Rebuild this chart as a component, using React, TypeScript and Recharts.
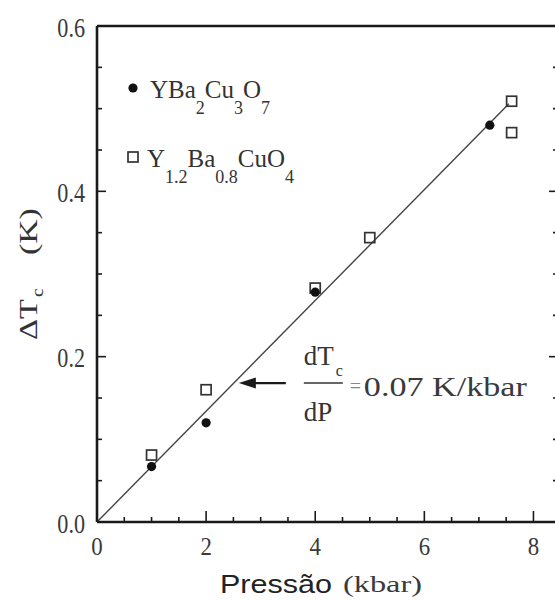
import React from "react";
import { ComposedChart, XAxis, YAxis, Scatter, Line, ReferenceDot } from "recharts";

// YBa2Cu3O7 (filled circles)
const circlePressure = [1, 2, 4, 7.2];
const circleDeltaTc = [0.067, 0.12, 0.278, 0.48];

// Y1.2Ba0.8CuO4 (open squares)
const squarePressure = [1, 2, 4, 5, 7.6, 7.6];
const squareDeltaTc = [0.081, 0.16, 0.283, 0.344, 0.509, 0.471];

// linear fit through the origin
const fitSlope = 0.067; // K/kbar
const fitPressure = [0, 7.55];

// where the slope arrow points at the fit line
const arrowTip = { x: 2.6, y: 0.168 };

const xMajorTicks = [0, 2, 4, 6, 8];
const yMajorTicks = [0, 0.2, 0.4, 0.6];
const xMinorStep = 0.5;
const yMinorStep = 0.05;

const INK = "#1a1a1a";
const SERIF = '"Liberation Serif", "Times New Roman", serif';
const SANS = '"Liberation Sans", Arial, sans-serif';

const W = 600;
const H = 601;
// axes below take 1px each, so the frame sits at x 97..558, y 26..522
const M = { top: 25, right: 41, bottom: 78, left: 96 };

const xDomain: [number, number] = [0, 8.45];
const yDomain: [number, number] = [0, 0.6];

const xTicks = Array.from({ length: 17 }, (_, i) => i * xMinorStep);
const yTicks = Array.from({ length: 13 }, (_, i) => Math.round(i * yMinorStep * 100) / 100);

const onMajor = (v: number, list: number[]) => list.some((m) => Math.abs(m - v) < 1e-6);

const circles = circlePressure.map((x, i) => ({ x, y: circleDeltaTc[i] }));
const squares = squarePressure.map((x, i) => ({ x, y: squareDeltaTc[i] }));
const fitLine = fitPressure.map((x) => ({ x, y: fitSlope * x }));

const BottomTick = ({ x, y, payload }: any) => {
  const major = onMajor(payload.value, xMajorTicks);
  return (
    <g>
      <line x1={x} x2={x} y1={y} y2={y - (major ? 11 : 5)} stroke={INK} strokeWidth={1.6} />
      {major && (
        <text
          transform={`translate(${x},${y + 33}) scale(0.88,1)`}
          textAnchor="middle"
          fontFamily={SERIF}
          fontSize={26}
          fill="#3a3a3a"
        >
          {payload.value}
        </text>
      )}
    </g>
  );
};

const TopTick = ({ x, y, payload }: any) => {
  const major = onMajor(payload.value, xMajorTicks);
  return <line x1={x} x2={x} y1={y} y2={y + (major ? 12 : 5)} stroke={INK} strokeWidth={1.6} />;
};

const LeftTick = ({ x, y, payload }: any) => {
  const major = onMajor(payload.value, yMajorTicks);
  return (
    <g>
      <line x1={x} x2={x + (major ? 9 : 5)} y1={y} y2={y} stroke={INK} strokeWidth={1.6} />
      {major && (
        <text
          transform={`translate(${x - 12},${y + 10.5}) scale(0.82,1)`}
          textAnchor="end"
          fontFamily={SERIF}
          fontSize={27}
          fill="#3a3a3a"
        >
          {payload.value.toFixed(1)}
        </text>
      )}
    </g>
  );
};

const RightTick = ({ x, y, payload }: any) => {
  const major = onMajor(payload.value, yMajorTicks);
  return <line x1={x} x2={x - (major ? 9 : 5)} y1={y} y2={y} stroke={INK} strokeWidth={1.6} />;
};

const Dot = ({ cx, cy }: any) => <circle cx={cx} cy={cy} r={4.6} fill="#111" />;

const OpenSquare = ({ cx, cy }: any) => (
  <rect x={cx - 5} y={cy - 5} width={10} height={10} fill="none" stroke="#333" strokeWidth={1.7} />
);

// arrow + dTc/dP = slope, drawn relative to the arrow tip
const SlopeNote = ({ cx, cy }: any) => (
  <g fill={INK}>
    <line x1={cx + 12} x2={cx + 47} y1={cy} y2={cy} stroke={INK} strokeWidth={2.4} />
    <polygon points={`${cx},${cy} ${cx + 17},${cy - 5.5} ${cx + 17},${cy + 5.5}`} />
    <text x={cx + 65} y={cy - 18} fontFamily={SERIF} fontSize={27} fill="#333">
      dT
    </text>
    <text x={cx + 97} y={cy - 7} fontFamily={SERIF} fontSize={16} fill="#333">
      c
    </text>
    <line x1={cx + 65} x2={cx + 104} y1={cy} y2={cy} stroke="#333" strokeWidth={1.5} />
    <text x={cx + 65} y={cy + 38} fontFamily={SERIF} fontSize={27} fill="#333">
      dP
    </text>
    <text x={cx + 111} y={cy + 10} fontFamily={SERIF} fontSize={20} fill="#888">
      =
    </text>
    <text
      x={cx + 125}
      y={cy + 13}
      fontFamily={SERIF}
      fontSize={27}
      fill="#3a3a3a"
      textLength={163}
      lengthAdjust="spacingAndGlyphs"
    >
      {`${fitSlope.toFixed(2)} K/kbar`}
    </text>
  </g>
);

const Labels = () => (
  <svg
    width={555}
    height={601}
    style={{ position: "absolute", left: 0, top: 0, pointerEvents: "none" }}
  >
    {/* legend */}
    <circle cx={133} cy={88} r={4.6} fill="#111" />
    <text x={150} y={98} fontFamily={SERIF} fontSize={25} fill="#333">
      YBa
      <tspan fontSize={18} dy={16}>2</tspan>
      <tspan dy={-16}>Cu</tspan>
      <tspan fontSize={18} dy={16}>3</tspan>
      <tspan dy={-16}>O</tspan>
      <tspan fontSize={18} dy={16}>7</tspan>
    </text>
    <rect x={128} y={152} width={10} height={10} fill="none" stroke="#333" strokeWidth={1.7} />
    <text x={147} y={167} fontFamily={SERIF} fontSize={25} fill="#333">
      Y
      <tspan fontSize={18} dy={16}>1.2</tspan>
      <tspan dy={-16}>Ba</tspan>
      <tspan fontSize={18} dy={16}>0.8</tspan>
      <tspan dy={-16}>CuO</tspan>
      <tspan fontSize={18} dy={16}>4</tspan>
    </text>

    {/* y axis title, read bottom to top */}
    <g transform="translate(37,274) rotate(-90)" fontFamily={SERIF} fill="#333">
      <text transform="translate(-66,0) scale(1.3,1)" fontSize={25}>
        ΔT
      </text>
      <text transform="translate(-23,6) scale(1.2,1)" fontSize={16}>
        c
      </text>
      <text transform="translate(19,0) scale(1.35,1)" fontSize={25}>
        (K)
      </text>
    </g>

    {/* x axis title */}
    <text x={220} y={593} fontFamily={SANS} fontSize={25} fill="#222" textLength={112} lengthAdjust="spacingAndGlyphs">
      Pressão
    </text>
    <text x={343} y={592} fontFamily={SERIF} fontSize={24} fill="#3a3a3a" textLength={79} lengthAdjust="spacingAndGlyphs">
      (kbar)
    </text>
  </svg>
);

export default function App() {
  return (
    <div
      style={{
        position: "absolute",
        left: 0,
        top: 0,
        width: 555,
        height: 601,
        overflow: "hidden",
        background: "#fff",
      }}
    >
      <ComposedChart width={W} height={H} margin={M}>
        <XAxis
          dataKey="x"
          type="number"
          domain={xDomain}
          allowDataOverflow
          ticks={xTicks}
          interval={0}
          height={1}
          tickSize={0}
          tickMargin={0}
          tickLine={false}
          tick={BottomTick}
          axisLine={{ stroke: INK, strokeWidth: 2.6 }}
        />
        <XAxis
          xAxisId="top"
          orientation="top"
          type="number"
          domain={xDomain}
          allowDataOverflow
          ticks={xTicks}
          interval={0}
          height={1}
          tickSize={0}
          tickMargin={0}
          tickLine={false}
          tick={TopTick}
          axisLine={{ stroke: INK, strokeWidth: 2.6 }}
        />
        <YAxis
          dataKey="y"
          type="number"
          domain={yDomain}
          allowDataOverflow
          ticks={yTicks}
          interval={0}
          width={1}
          tickSize={0}
          tickMargin={0}
          tickLine={false}
          tick={LeftTick}
          axisLine={{ stroke: INK, strokeWidth: 2.6 }}
        />
        <YAxis
          yAxisId="right"
          orientation="right"
          type="number"
          domain={yDomain}
          allowDataOverflow
          ticks={yTicks}
          interval={0}
          width={1}
          tickSize={0}
          tickMargin={0}
          tickLine={false}
          tick={RightTick}
          axisLine={{ stroke: INK, strokeWidth: 2.6 }}
        />
        <Line
          data={fitLine}
          dataKey="y"
          type="linear"
          stroke="#444"
          strokeWidth={1.4}
          dot={false}
          activeDot={false}
          isAnimationActive={false}
        />
        <Scatter data={squares} dataKey="y" shape={OpenSquare} isAnimationActive={false} />
        <Scatter data={circles} dataKey="y" shape={Dot} isAnimationActive={false} />
        <ReferenceDot x={arrowTip.x} y={arrowTip.y} shape={SlopeNote} />
      </ComposedChart>
      <Labels />
    </div>
  );
}
